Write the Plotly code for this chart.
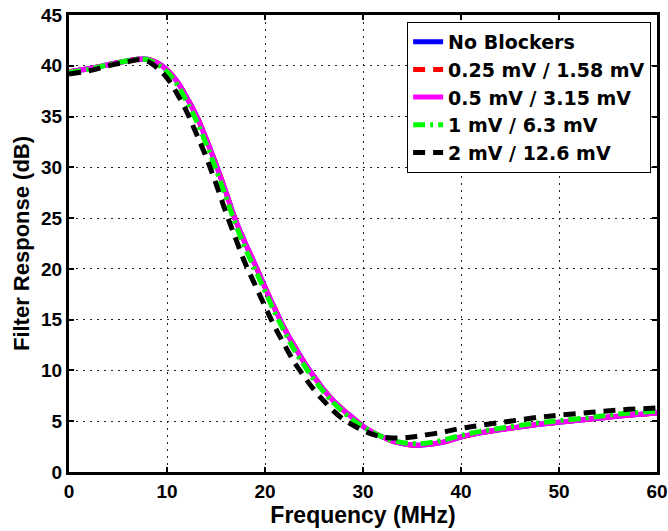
import plotly.graph_objects as go

freq = [0, 2, 4, 6, 7, 8, 9, 10, 11, 12, 13, 14, 15, 16, 17, 18, 19, 20, 21, 22, 23, 24, 25,
        26, 27, 28, 29, 30, 31, 32, 33, 34, 35, 36, 38, 40, 42, 45, 48, 50, 53, 56, 60]

no_blockers = [39.4, 39.7, 40.1, 40.5, 40.65, 40.65, 40.3, 39.6, 38.5, 36.9, 35.1, 32.8, 30.3,
               27.6, 24.8, 22.5, 20.4, 18.2, 16.1, 14.1, 12.4, 10.8, 9.4, 8.1, 7.0, 6.1, 5.3,
               4.5, 3.9, 3.45, 3.05, 2.8, 2.65, 2.65, 2.9, 3.45, 3.85, 4.3, 4.7, 4.9, 5.2, 5.5, 5.8]
mv_025 = [39.4, 39.7, 40.1, 40.5, 40.65, 40.65, 40.3, 39.6, 38.5, 36.9, 35.1, 32.8, 30.3,
          27.6, 24.8, 22.5, 20.4, 18.2, 16.1, 14.1, 12.4, 10.8, 9.4, 8.1, 7.0, 6.1, 5.3,
          4.5, 3.9, 3.45, 3.05, 2.8, 2.65, 2.65, 2.9, 3.45, 3.85, 4.3, 4.7, 4.9, 5.2, 5.5, 5.8]
mv_05 = [39.4, 39.7, 40.1, 40.5, 40.65, 40.65, 40.3, 39.6, 38.5, 36.9, 35.1, 32.8, 30.3,
         27.6, 24.8, 22.5, 20.4, 18.2, 16.1, 14.1, 12.4, 10.8, 9.4, 8.1, 7.0, 6.1, 5.3,
         4.5, 3.9, 3.45, 3.05, 2.8, 2.65, 2.65, 2.9, 3.45, 3.85, 4.3, 4.7, 4.9, 5.2, 5.5, 5.8]
mv_1 = [39.35, 39.65, 40.1, 40.5, 40.65, 40.6, 40.15, 39.4, 38.2, 36.5, 34.6, 32.3, 29.8,
        27.1, 24.4, 22.0, 19.9, 17.8, 15.7, 13.8, 12.0, 10.5, 9.1, 7.9, 6.8, 5.9, 5.1,
        4.45, 3.9, 3.45, 3.1, 2.9, 2.8, 2.8, 3.1, 3.6, 4.0, 4.45, 4.85, 5.05, 5.35, 5.7, 6.0]
mv_2 = [39.2, 39.5, 40.0, 40.4, 40.6, 40.45, 39.8, 38.8, 37.3, 35.5, 33.3, 31.0, 28.4,
        25.6, 23.0, 20.5, 18.4, 16.3, 14.3, 12.5, 10.8, 9.4, 8.1, 7.0, 6.0, 5.2, 4.6,
        4.1, 3.7, 3.45, 3.35, 3.35, 3.45, 3.6, 3.9, 4.3, 4.6, 5.0, 5.4, 5.6, 5.85, 6.1, 6.3]

series = [
    ("No Blockers", no_blockers, "#0000ff", "solid"),
    ("0.25 mV / 1.58 mV", mv_025, "#ff0000", "12px,8px"),
    ("0.5 mV / 3.15 mV", mv_05, "#ff00ff", "solid"),
    ("1 mV / 6.3 mV", mv_1, "#00ff00", "12px,5px,3px,5px"),
    ("2 mV / 12.6 mV", mv_2, "#000000", "12px,8px"),
]

FONT = "Liberation Sans, Arial, sans-serif"
LEGEND_FONT = "DejaVu Sans, Liberation Sans, sans-serif"

fig = go.Figure()
for name, vals, color, dash in series:
    fig.add_trace(go.Scatter(x=freq, y=vals, name=name, mode="lines",
                             line=dict(color=color, width=5, dash=dash, shape="spline")))

axis_common = dict(
    automargin=False,
    showline=True, linecolor="black", linewidth=3, mirror="ticks",
    ticks="inside", ticklen=5, tickwidth=2, tickcolor="black",
    showgrid=True, gridcolor="#222222", gridwidth=1, griddash="2px,5px",
    zeroline=False,
    tickfont=dict(family=FONT, size=19, color="black", weight="bold"),
)

fig.update_layout(
    template="none",
    width=668, height=531,
    margin=dict(l=69, r=11, t=15, b=59),
    paper_bgcolor="white", plot_bgcolor="white",
    xaxis=dict(range=[0, 60], dtick=10,
               title=dict(text="Frequency (MHz)", standoff=0,
                          font=dict(family=FONT, size=23, color="black", weight="bold")),
               **axis_common),
    yaxis=dict(range=[0, 45], dtick=5,
               title=dict(text="Filter Response (dB)", standoff=6,
                          font=dict(family=FONT, size=22, color="black", weight="bold")),
               **axis_common),
    legend=dict(x=0.99, y=0.985, xanchor="right", yanchor="top",
                bgcolor="white", bordercolor="black", borderwidth=1,
                font=dict(family=LEGEND_FONT, size=19, color="black", weight="bold"),
                tracegroupgap=0),
    showlegend=True,
)

fig.write_html("out.html", config={"displayModeBar": False},
               post_script="document.body.style.margin='0';")
